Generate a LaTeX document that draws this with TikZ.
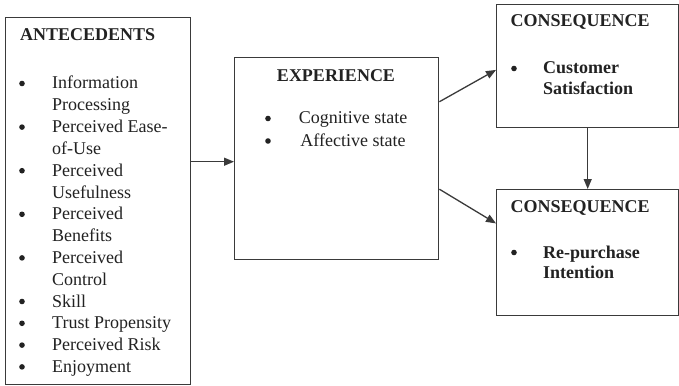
\documentclass[tikz,border=0pt]{standalone}
\usepackage{fontspec}
\setmainfont{Liberation Serif}
\usepackage{tikz}
\usetikzlibrary{arrows.meta,positioning,calc}
\definecolor{Ink}{HTML}{222222}
\definecolor{Frame}{HTML}{3A3A3A}
\tikzset{
  box/.style={draw=Frame,line width=1.4pt,fill=white,minimum width=#1,inner sep=0pt,anchor=north west},
  headText/.style={anchor=base west,inner sep=0pt,text=Ink,font=\fontsize{18}{21.8}\selectfont\bfseries},
  itemText/.style={anchor=base west,inner sep=0pt,text=Ink,font=\fontsize{18}{21.8}\selectfont},
  bul/.style={circle,fill=Ink,inner sep=0pt,minimum size=5.6pt,yshift=5.5pt},
  arrow/.style={-{Triangle[length=10pt,width=8pt]},line width=1.3pt,draw=Frame}
}
\begin{document}
\begin{tikzpicture}[x=1pt,y=-1pt]
\useasboundingbox (0,0) rectangle (679,385);
% boxes
\node[box=185pt,minimum height=367pt] (ante) at (5,17) {};
\node[box=204pt,minimum height=202pt] (expe) at (234,57) {};
\node[box=182pt,minimum height=123pt] (cons1) at (496,4) {};
\node[box=182pt,minimum height=126pt] (cons2) at (496,189) {};
% antecedents
\node[headText] (anteHead) at (20,41) {ANTECEDENTS};
\foreach \t [count=\i from 0] in {Information,Processing,Perceived Ease-,of-Use,Perceived,Usefulness,Perceived,Benefits,Perceived,Control,Skill,Trust Propensity,Perceived Risk,Enjoyment}
  \node[itemText] (anteLine\i) at (52,89+21.8*\i) {\t};
\foreach \i in {0,2,4,6,8,10,11,12,13}
  \node[bul] (anteBul\i) at (22,89+21.8*\i) {};
% experience
\node[headText,anchor=base] (expeHead) at (336,81.7) {EXPERIENCE};
\node[bul] (expeBul1) at (268,124) {};
\node[bul] (expeBul2) at (268,146.5) {};
\node[itemText,anchor=base] (expeLine1) at (353,124) {Cognitive state};
\node[itemText,anchor=base] (expeLine2) at (353,146.5) {Affective state};
% consequences
\node[headText] (cons1Head) at (510.5,27) {CONSEQUENCE};
\node[bul] (cons1Bul) at (514,74) {};
\node[headText] (cons1Line1) at (543,74) {Customer};
\node[headText] (cons1Line2) at (543,94.5) {Satisfaction};
\node[headText] (cons2Head) at (510.5,212.5) {CONSEQUENCE};
\node[bul] (cons2Bul) at (514,258) {};
\node[headText] (cons2Line1) at (543,258) {Re-purchase};
\node[headText] (cons2Line2) at (543,278.5) {Intention};
% arrows
\draw[arrow] (ante.east |- 0,161.7) -- (expe.west |- 0,161.7);
\draw[arrow] ($(expe.north east)!0.22!(expe.south east)$) -- ($(cons1.north west)!0.53!(cons1.south west)$);
\draw[arrow] ($(expe.north east)!0.65!(expe.south east)$) -- ($(cons2.north west)!0.27!(cons2.south west)$);
\draw[arrow] (cons1.south) -- (cons2.north);
\end{tikzpicture}
\end{document}
